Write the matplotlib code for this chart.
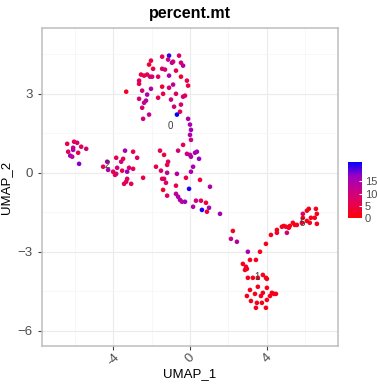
import matplotlib

matplotlib.use("Agg")
import matplotlib.pyplot as plt
import numpy as np
from matplotlib.colors import LinearSegmentedColormap, Normalize

plt.rcParams["font.family"] = ["Liberation Sans", "DejaVu Sans"]

# cells: UMAP_1, UMAP_2, percent.mt  (grouped by cluster)
umap_1 = [
    # cluster 0 (top)
    -1.09, -1.45, -0.57, -1.14, -0.94, -0.88, -0.47, -0.36, -2.03, -2.13,
    -1.92, -1.45, -1.30, -0.73, -2.55, -2.39, -2.23, -2.08, -1.97, -1.66,
    -1.09, -0.47, -2.65, -2.65, -0.16, -0.10, -1.45, -1.09, -0.88, -2.03,
    -2.49, -3.32, -2.23, -1.66, -1.40, -0.73, -0.36, -0.26, -2.65, -2.29,
    -2.39, -0.99, -0.47, -2.49, -0.83, -0.52, -0.68, -2.13, -2.44, -0.10,
    0.00, 0.05, 0.00, 0.05, -0.36,
    # middle
    -0.62, -0.16, 0.00, 0.05, 0.26, 0.36, 0.47, -1.56, -1.35, -1.14,
    -1.19, -1.77, -1.51, -1.19, -0.68, 0.16, 0.05, -0.21, 0.52, -2.44,
    -1.45, -1.35, -1.25, -0.73, -0.05, 1.04, -1.40, -1.19, -0.73, -0.62,
    -0.52, -0.42, -0.26, 0.31, 0.57, 0.83, 0.16, 0.62, 0.88, 0.99, 1.56,
    # left
    -6.39, -6.03, -5.87, -5.66, -5.40, -6.34, -6.08, -6.08, -6.23, -6.13,
    -5.82, -5.77,
    # cluster 2
    -4.52, -4.31, -4.26, -3.84, -3.58, -3.48, -3.79, -3.84, -4.00, -3.38,
    -3.27, -3.53, -3.17, -2.96, -2.75, -2.96, -3.27, -3.32, -3.43, -3.06,
    -3.90,
    # cluster 5 (right arm)
    2.23, 2.13, 2.44, 3.01, 3.64, 3.95, 4.21, 4.52, 4.52, 4.88, 4.99, 5.04,
    5.14, 5.35, 5.56, 5.82, 5.87, 6.08, 6.18, 6.55, 6.60, 6.29, 6.49, 6.08,
    6.23, 6.60, 5.87, 5.19, 5.45, 4.78,
    # cluster 1 (bottom)
    3.12, 3.43, 2.75, 2.91, 2.86, 2.96, 3.01, 3.27, 3.53, 3.79, 3.95, 4.00,
    3.12, 3.53, 4.00, 4.26, 4.36, 4.47, 3.79, 3.38, 2.96, 3.69, 3.17, 3.48,
    3.74, 3.43, 3.95, 4.16, 4.00,
]
umap_2 = [
    4.45, 4.41, 4.45, 4.30, 4.18, 4.22, 4.18, 4.07, 4.26, 4.11,
    3.95, 3.95, 3.92, 3.88, 3.73, 3.69, 3.73, 3.65, 3.65, 3.65,
    3.69, 3.65, 3.50, 3.38, 3.50, 3.31, 3.27, 3.23, 3.35, 3.19,
    3.12, 3.08, 2.97, 2.85, 3.00, 3.00, 2.89, 2.93, 2.81, 2.74,
    2.66, 2.78, 2.59, 2.47, 2.51, 2.32, 2.21, 2.21, 2.05, 2.05,
    1.83, 1.63, 1.44, 1.25, 1.06,
    0.84, 0.72, 0.68, 0.61, 0.76, 0.80, 0.53, 0.84, 0.68, 0.42,
    0.30, 0.23, 0.08, 0.00, -0.04, 0.23, 0.04, -0.19, -0.27, -0.19,
    -0.23, -0.23, -0.38, -0.49, -0.61, -0.53, -0.65, -0.87, -0.80, -0.91,
    -1.03, -1.10, -1.10, -1.06, -1.06, -1.14, -1.29, -1.41, -1.48, -1.33, -1.56,
    1.10, 1.18, 1.14, 0.99, 0.91, 0.80, 0.87, 0.95, 0.65, 0.61,
    0.76, 0.34,
    0.23, 0.42, 0.11, 0.57, 0.42, 0.53, 0.19, -0.04, 0.04, 0.84,
    0.04, 0.08, 0.19, 0.80, 0.57, 0.15, -0.23, -0.34, -0.42, -0.42,
    -0.08,
    -2.21, -2.51, -2.62, -3.00, -3.00, -2.70, -2.36, -2.17, -2.28, -2.02,
    -2.05, -2.28, -2.09, -1.90, -1.98, -1.90, -1.56, -1.44, -1.37, -1.37,
    -1.56, -1.71, -1.71, -1.83, -1.90, -1.94, -1.71, -2.02, -1.98, -2.05,
    -3.31, -3.31, -3.46, -3.57, -3.69, -3.65, -3.99, -3.99, -3.99, -3.88,
    -3.99, -4.03, -4.45, -4.33, -4.37, -4.56, -4.60, -4.60, -4.56, -4.60,
    -4.68, -4.68, -4.87, -4.94, -4.94, -5.13, -5.13, -4.68, -4.83,
]
percent_mt = [
    21, 6, 9, 11, 14, 10, 10, 14, 6, 3,
    5, 9, 9, 6, 5, 5, 6, 8, 10, 7,
    15, 3, 8, 6, 6, 5, 4, 9, 13, 14,
    10, 3, 15, 6, 6, 8, 11, 7, 9, 15,
    11, 11, 9, 10, 10, 6, 23, 12, 10, 15,
    15, 16, 15, 11, 6,
    9, 11, 12, 14, 15, 16, 17, 6, 4, 8,
    6, 5, 8, 13, 14, 15, 15, 6, 4, 5,
    6, 8, 8, 6, 22, 14, 3, 8, 13, 14,
    15, 12, 17, 10, 7, 4, 14, 22, 4, 15, 16,
    6, 5, 10, 7, 10, 6, 16, 12, 17, 12,
    6, 18,
    6, 15, 15, 6, 10, 6, 9, 11, 6, 16,
    17, 6, 9, 6, 8, 6, 6, 8, 6, 6,
    7,
    3, 11, 14, 15, 2, 2, 2, 2, 3, 2, 2, 10,
    2, 2, 2, 3, 9, 2, 2, 2, 2, 2, 2, 2,
    2, 2, 2, 2, 2, 2,
    2, 2, 2, 2, 2, 2, 2, 2, 2, 2, 2, 2,
    2, 2, 2, 2, 2, 2, 2, 2, 2, 2, 2, 2,
    2, 2, 2, 2, 2,
]

cluster_ids = ["0", "2", "1", "5"]
cluster_x = [-1.04, -4.3, 3.5, 5.85]
cluster_y = [1.79, 0.3, -3.95, -1.9]

x_ticks = [-4, 0, 4]
y_ticks = [-6, -3, 0, 3]
cbar_ticks = [0, 5, 10, 15]

# ggplot red -> blue gradient (Lab interpolation, approximated)
cmap = LinearSegmentedColormap.from_list(
    "red_blue", ["#FF0000", "#E8004F", "#C90088", "#9A00C3", "#0000FF"]
)
norm = Normalize(vmin=0, vmax=max(percent_mt))

fig = plt.figure(figsize=(3.77, 3.85), dpi=100)
ax = fig.add_axes([0.1114, 0.1013, 0.7852, 0.826])

ax.scatter(umap_1, umap_2, c=percent_mt, cmap=cmap, norm=norm,
           s=11, linewidths=0, zorder=3)

for lab, lx, ly in zip(cluster_ids, cluster_x, cluster_y):
    ax.text(lx, ly, lab, fontsize=7, color="#3a3a3a",
            ha="center", va="center", zorder=4)

ax.set_xlim(-7.7, 7.7)
ax.set_ylim(-6.58, 5.5)
ax.set_xticks(x_ticks)
ax.set_yticks(y_ticks)
ax.set_xticks([-6, -2, 2, 6], minor=True)
ax.set_yticks([-4.5, -1.5, 1.5, 4.5], minor=True)
ax.grid(True, which="major", color="#EBEBEB", linewidth=0.8, zorder=0)
ax.grid(True, which="minor", color="#F4F4F4", linewidth=0.5, zorder=0)
ax.set_axisbelow(True)
for sp in ax.spines.values():
    sp.set_color("#BDBDBD")
    sp.set_linewidth(1.1)

ax.tick_params(axis="both", which="major", length=3, width=0.8,
               color="#444444", labelsize=9.5, labelcolor="#4D4D4D")
ax.tick_params(axis="x", which="major", pad=1)
ax.tick_params(axis="both", which="minor", length=0)
ax.set_xticklabels([str(t) for t in x_ticks], rotation=45,
                   ha="center", va="top")
ax.set_yticklabels(["−6", "−3", "0", "3"])

ax.set_xlabel("UMAP_1", fontsize=9.5, labelpad=0)
ax.set_ylabel("UMAP_2", fontsize=9.5, labelpad=4)
ax.set_title("percent.mt", fontsize=11.5, fontweight="bold", pad=7)

# colour bar
cax = fig.add_axes([0.923, 0.4325, 0.037, 0.1475])
sm = plt.cm.ScalarMappable(cmap=cmap, norm=norm)
cb = fig.colorbar(sm, cax=cax, ticks=cbar_ticks)
cb.outline.set_visible(False)
cb.ax.tick_params(length=2.5, width=0.8, color="white", direction="in",
                  labelsize=8, labelcolor="#4D4D4D", pad=2)

fig.savefig("out.png", dpi=100)
